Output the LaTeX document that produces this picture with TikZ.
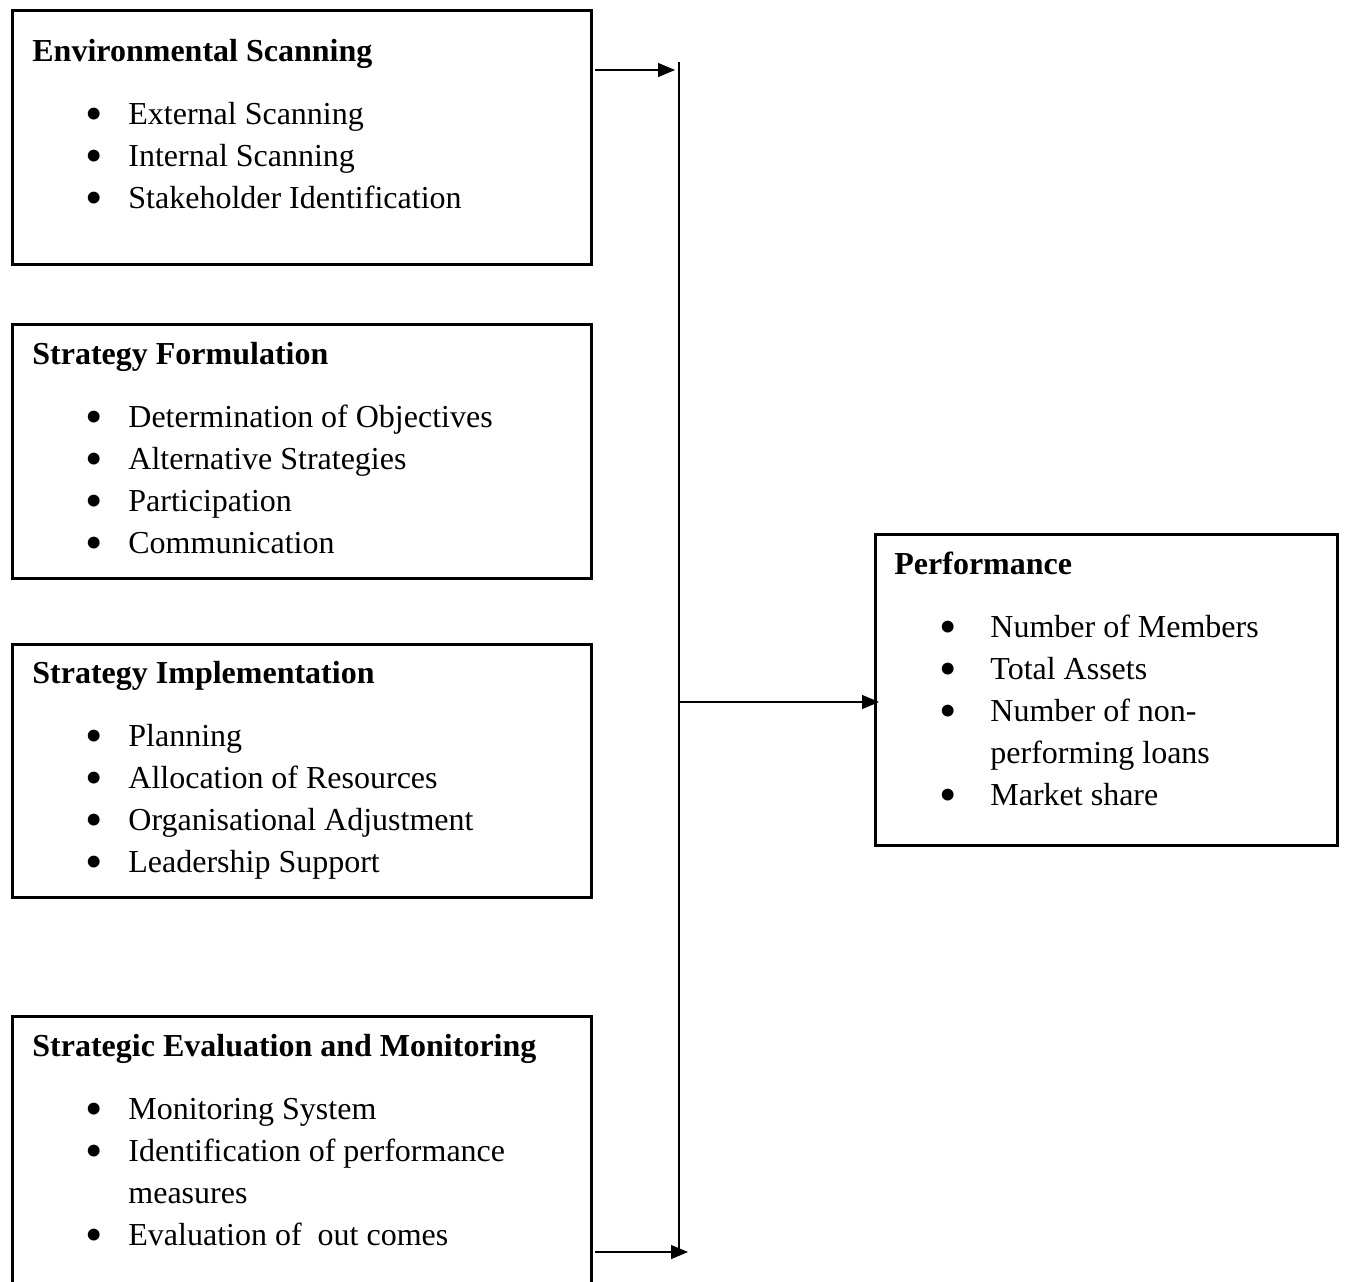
\documentclass[tikz,border=0pt]{standalone}
\usepackage{fontspec}
\usepackage{graphicx}
\setmainfont{Liberation Serif}
\usetikzlibrary{positioning, calc, arrows.meta}

% bullet with its indent, text always starts 48pt in
\newcommand\bul[1][26.5pt]{\makebox[48pt][l]{\hspace{#1}\smash{\raisebox{-3.4pt}{\scalebox{1.55}{\textbullet}}}}}
\newcommand\boxlist[2]{\begin{tabular}[t]{@{}l@{}}\textbf{#1}\\[10.5pt]#2\end{tabular}}

\begin{document}
\begin{tikzpicture}[x=0.5pt, y=-0.5pt,
    frame/.style={draw, line width=1.45pt, inner sep=0pt, anchor=north west},
    listtext/.style={anchor=base west, inner sep=0pt, font=\fontsize{16pt}{21pt}\selectfont},
    bus/.style={line width=0.65pt},
    arr/.style={line width=0.65pt, -{Triangle[length=8.5pt, width=7pt]}}]
    \useasboundingbox (0,0) rectangle (1347,1281);

    % the four boxes on the left
    \node[frame, minimum width=289.5pt, minimum height=127pt] (es) at (11,9) {};
    \node[frame, minimum width=289.5pt, minimum height=127pt] (sf) at (11,323) {};
    \node[frame, minimum width=289.5pt, minimum height=126.5pt] (si) at (11,643) {};
    \node[frame, minimum width=289.5pt, minimum height=150pt] (sem) at (11,1015) {};
    % performance box
    \node[frame, minimum width=231pt, minimum height=155.5pt] (perf) at (874,533) {};

    \node[listtext] (estext) at (32,61) {\boxlist{Environmental Scanning}{%
        \bul External Scanning\\
        \bul Internal Scanning\\
        \bul Stakeholder Identification}};
    \node[listtext] (sftext) at (32,364) {\boxlist{Strategy Formulation}{%
        \bul Determination of Objectives\\
        \bul Alternative Strategies\\
        \bul Participation\\
        \bul Communication}};
    \node[listtext] (sitext) at (32,683) {\boxlist{Strategy Implementation}{%
        \bul Planning\\
        \bul Allocation of Resources\\
        \bul Organisational Adjustment\\
        \bul Leadership Support}};
    \node[listtext] (semtext) at (32,1056) {\boxlist{Strategic Evaluation and Monitoring}{%
        \bul Monitoring System\\
        \bul Identification of performance\\
        \hspace{48pt}measures\\
        \bul Evaluation of\ \ out comes}};
    \node[listtext] (perftext) at (894,574) {\boxlist{Performance}{%
        \bul[22.5pt]Number of Members\\
        \bul[22.5pt]Total Assets\\
        \bul[22.5pt]Number of non-\\
        \hspace{48pt}performing loans\\
        \bul[22.5pt]Market share}};

    % connectors
    \coordinate (bustop) at (679,62);
    \coordinate (busbot) at (679,1252);
    \coordinate (busmid) at (679,702);
    \coordinate (esin) at (675,70);
    \coordinate (semin) at (688,1252);
    \draw[bus] (bustop) -- (busbot);
    \draw[arr] ($(es.north east)+(2,61)$) -- (esin);
    \draw[arr] ($(sem.north east)+(2,237)$) -- (semin);
    \draw[arr] (busmid) -- ($(perf.north west)+(5,169)$);
\end{tikzpicture}
\end{document}
